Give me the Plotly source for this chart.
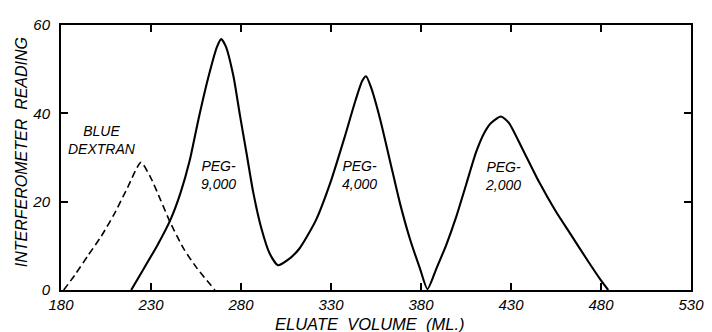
import plotly.graph_objects as go

# Blue Dextran (dashed)
dextran_x = [181.5, 187.7, 195.0, 202.4, 209.7, 217.0, 224.4, 229.9, 235.4, 240.9, 248.2, 255.6, 265.5]
dextran_y = [0, 3.4, 7.8, 12.2, 17.3, 23.2, 28.9, 25.4, 20.3, 15.1, 9.3, 4.9, 0]

# PEG elution curve (solid)
peg_x = [219, 226.2, 233.5, 240.9, 246.4, 251.5, 256.5, 262, 266.6, 269, 271.5, 275.8, 279.4,
         283.1, 286.8, 291.3, 296, 300.5, 306, 312.5, 321.5, 329.9, 337.2, 343.6, 347.3,
         349.5, 352.3, 357.4, 362.9, 368.4, 373.9, 379.4, 383.6, 388.6, 394.1, 399.6, 405.1,
         410.6, 415.2, 418.9, 424.4, 428.9, 436.3, 445.4, 454.6, 463.8, 473, 480.3, 484]
peg_y = [0, 5.0, 10.1, 16.0, 22.0, 29.3, 38.9, 48.4, 55, 56.8, 55.2, 48.4, 39.6,
         30.9, 22.1, 14.0, 8.2, 5.6, 6.8, 9.4, 15.7, 24.6, 34.1, 42.9, 47.3,
         48.4, 45.8, 38.5, 29, 19.5, 11.5, 4.9, 0.2, 4.9, 10.3, 16.6, 23.9,
         31.2, 35.6, 37.8, 39.3, 37.8, 32.0, 24.6, 18.0, 12.2, 6.4, 2.0, 0]

x_ticks = [180, 230, 280, 330, 380, 430, 480, 530]
y_ticks = [0, 20, 40, 60]

labels = ["BLUE<br>DEXTRAN", "PEG-<br>9,000", "PEG-<br>4,000", "PEG-<br>2,000"]
label_x = [203, 267.5, 345.7, 425.5]
label_y = [34, 26, 26, 25.7]

FONT = "Liberation Sans"

fig = go.Figure()
fig.add_trace(go.Scatter(x=dextran_x, y=dextran_y, mode="lines",
                         line=dict(color="black", width=1.6, dash="7px,4px", shape="spline", smoothing=0.6)))
fig.add_trace(go.Scatter(x=peg_x, y=peg_y, mode="lines",
                         line=dict(color="black", width=2.1, shape="spline", smoothing=0.6)))

for t, xx, yy in zip(labels, label_x, label_y):
    fig.add_annotation(x=xx, y=yy, text=t, showarrow=False, xref="x", yref="y",
                       font=dict(family=FONT, size=14, color="black", style="italic"))

fig.add_annotation(x=351.5, y=0, xref="x", yref="paper", yanchor="middle", xanchor="center",
                   yshift=-34, text="ELUATE  VOLUME  (ML.)",
                   showarrow=False, font=dict(family=FONT, size=16.5, color="black", style="italic"))
fig.add_annotation(x=0, y=0.52, xref="paper", yref="paper", xanchor="center", yanchor="middle",
                   xshift=-40, text="INTERFEROMETER  READING",
                   textangle=-90, showarrow=False,
                   font=dict(family=FONT, size=16, color="black", style="italic"))

axis_common = dict(showline=True, linecolor="black", linewidth=2, mirror="allticks",
                   ticks="inside", ticklen=7, tickwidth=1.5, tickcolor="black",
                   showgrid=False, zeroline=False, ticklabeloverflow="allow",
                   tickfont=dict(family=FONT, size=15, color="black", style="italic"))
fig.update_xaxes(range=[180, 530], tickvals=x_ticks, ticktext=[str(v) for v in x_ticks], **axis_common)
fig.update_yaxes(range=[0, 60], tickvals=y_ticks, ticktext=[str(v) for v in y_ticks],
                 ticklabelstandoff=6, **axis_common)

# page body has an 8px default margin, so the figure is sized/positioned to compensate
fig.update_layout(width=704, height=324, margin=dict(l=53, r=15, t=8, b=42),
                  paper_bgcolor="white", plot_bgcolor="white", showlegend=False)

fig.write_html("out.html")
